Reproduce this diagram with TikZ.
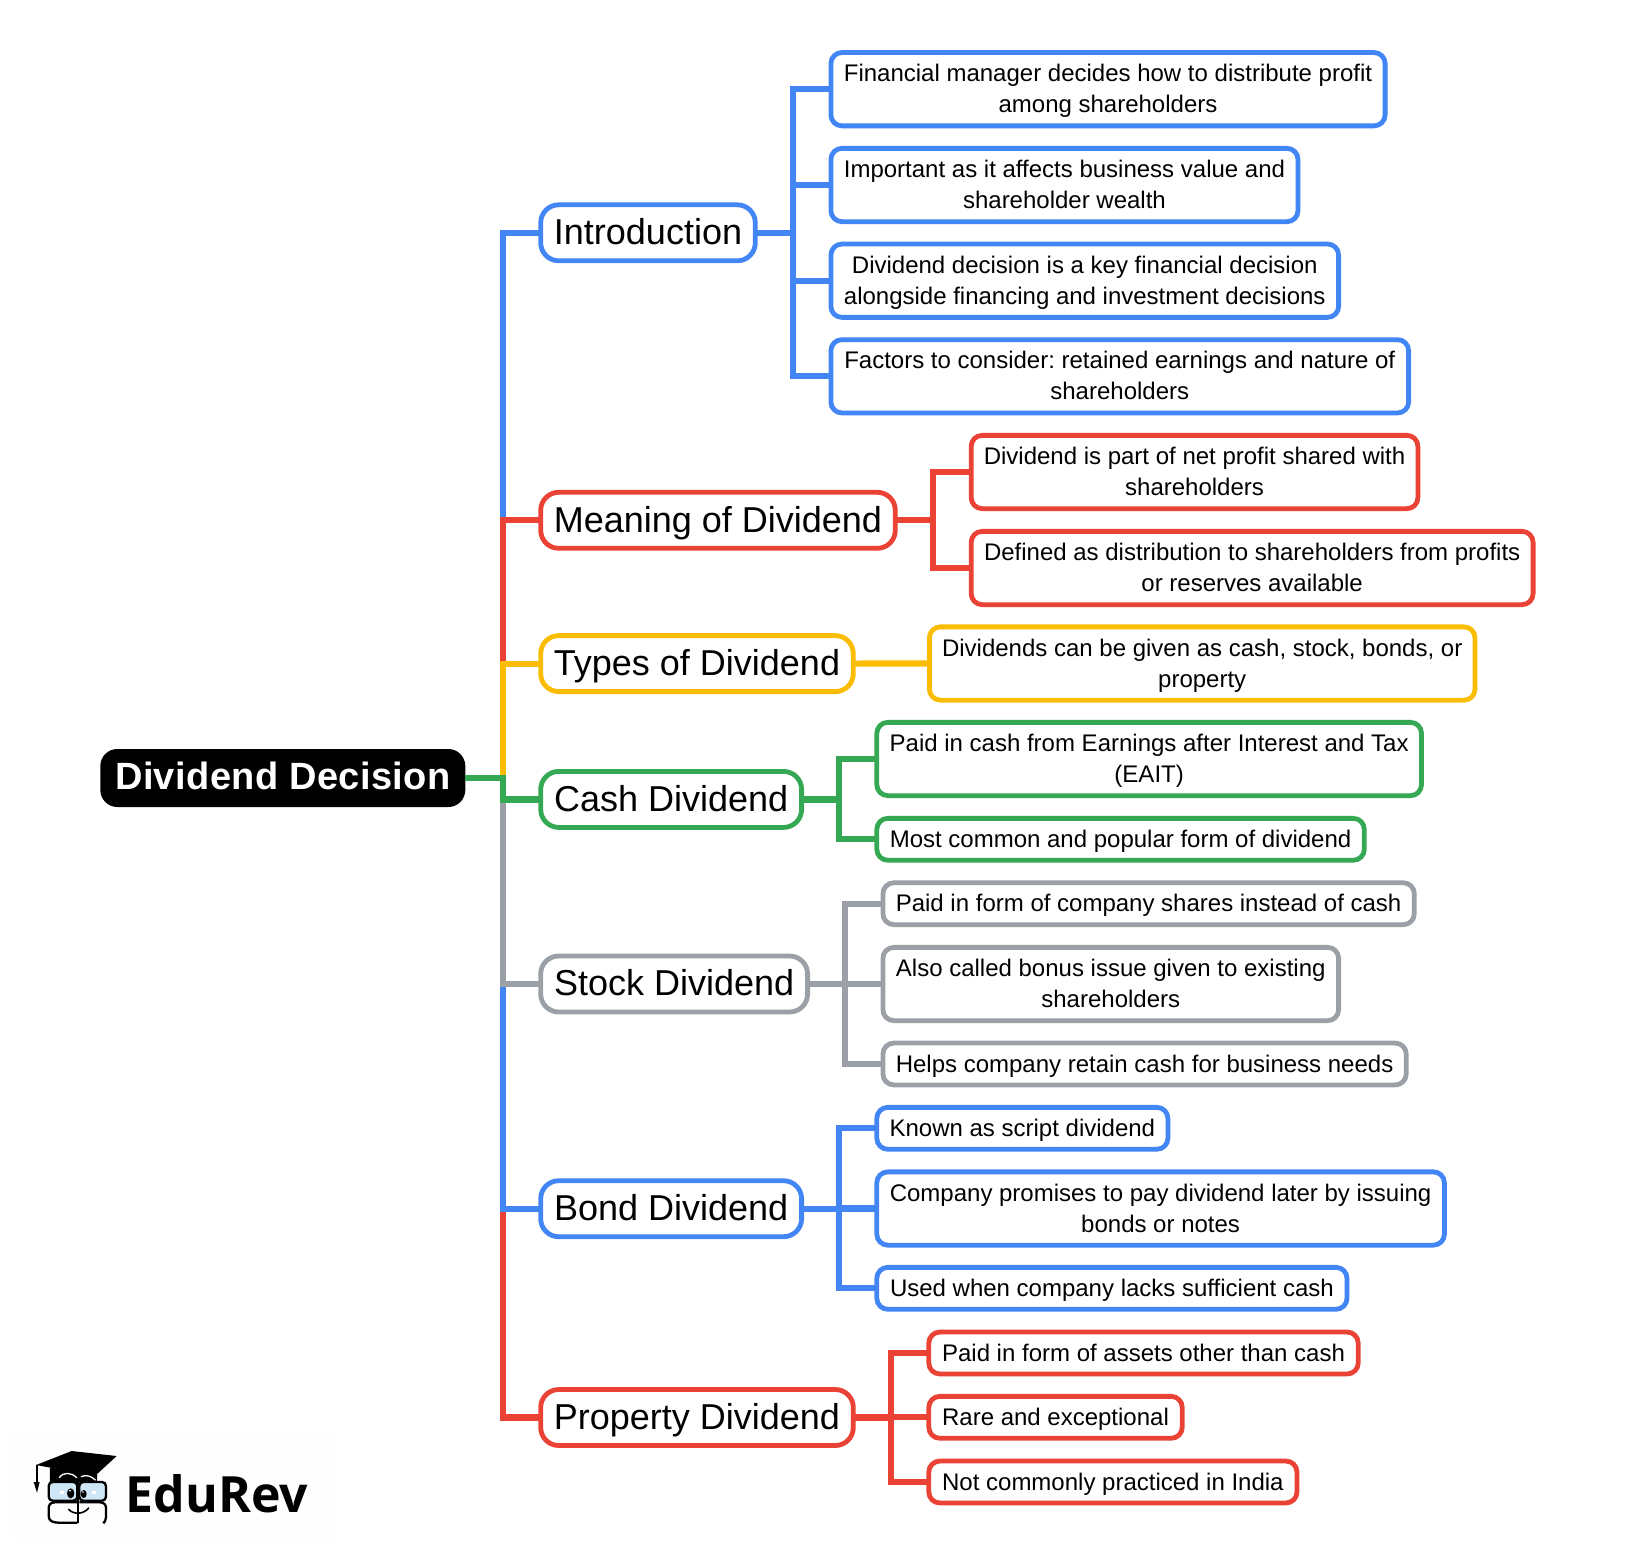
\documentclass[tikz,border=0pt]{standalone}
\usepackage{fontspec}
\setmainfont{Liberation Sans}
\newfontfamily\logofont{Open Sans}
\definecolor{gblue}{HTML}{4285F4}
\definecolor{gred}{HTML}{EA4335}
\definecolor{gyellow}{HTML}{FBBC04}
\definecolor{ggreen}{HTML}{34A853}
\definecolor{ggray}{HTML}{9AA0A6}
\definecolor{lens}{HTML}{CFE6F6}
\definecolor{logoback}{HTML}{FEFEFE}
\newcommand\leafstrut{\rule[-7.5pt]{0pt}{31pt}}
\newcommand\branchstrut{\rule[-9.7pt]{0pt}{43pt}}
\newcommand\leafnode[7]{\node[leafbox,#7,draw=#2,minimum width={#4-#3-4.8}] (#1) at ({(#3+#4)/2},#5) {\leafstrut #6\leafstrut};}
\newcommand\branchnode[6]{\node[branchbox,draw=#2,minimum width={#4-#3-4.8}] (#1) at ({(#3+#4)/2},#5) {\branchstrut #6};}
\tikzset{
  leafbox/.style={rectangle,rounded corners=11pt,line width=4.8pt,fill=white,inner sep=0pt,outer sep=0pt,align=center,text=black,font=\fontsize{24}{31}\selectfont\frenchspacing},
  leaftwo/.style={minimum height=73.3pt},
  leafone/.style={minimum height=41.9pt},
  branchbox/.style={rectangle,rounded corners=18pt,line width=4.8pt,fill=white,inner sep=0pt,outer sep=0pt,minimum height=56pt,text=black,font=\fontsize{36}{43}\selectfont},
  rootbox/.style={rectangle,rounded corners=17pt,fill=black,inner sep=0pt,outer sep=0pt,minimum width=365pt,minimum height=58pt,text=white,font=\fontsize{38}{43}\selectfont\bfseries\addfontfeature{LetterSpace=1}},
  conn/.style={line width=6.2pt,line join=miter},
  logoline/.style={draw=black,line width=2.3pt},
}
\begin{document}
\begin{tikzpicture}[x=1pt,y=-1pt]
\useasboundingbox (0,0) rectangle (1636,1556);
\fill[white] (0,0) rectangle (1636,1556);
\fill[logoback] (10,1430) rectangle (335,1540);

% root and branches
\node[rootbox] (root) at (282.8,778) {\branchstrut Dividend Decision};
\branchnode{intro}{gblue}{538.3}{757.7}{232.8}{Introduction}
\branchnode{meaning}{gred}{538.3}{897.7}{520.3}{Meaning of Dividend}
\branchnode{types}{gyellow}{538.3}{855.7}{663.6}{Types of Dividend}
\branchnode{cash}{ggreen}{538.3}{804}{799.4}{Cash Dividend}
\branchnode{stock}{ggray}{538.3}{810}{984}{Stock Dividend}
\branchnode{bond}{gblue}{538.3}{804}{1208.7}{Bond Dividend}
\branchnode{property}{gred}{538.3}{855.7}{1417.5}{Property Dividend}

% leaves
\leafnode{iA}{gblue}{828.5}{1387.5}{89.2}{Financial manager decides how to distribute profit\\among shareholders}{leaftwo}
\leafnode{iB}{gblue}{828.5}{1300.4}{185}{Important as it affects business value and\\shareholder wealth}{leaftwo}
\leafnode{iC}{gblue}{828.5}{1341}{280.7}{Dividend decision is a key financial decision\\alongside financing and investment decisions}{leaftwo}
\leafnode{iD}{gblue}{828.5}{1411}{376.3}{Factors to consider: retained earnings and nature of\\shareholders}{leaftwo}
\leafnode{mA}{gred}{968.8}{1420.3}{472}{Dividend is part of net profit shared with\\shareholders}{leaftwo}
\leafnode{mB}{gred}{968.8}{1535.5}{568}{Defined as distribution to shareholders from profits\\or reserves available}{leaftwo}
\leafnode{tA}{gyellow}{927}{1477.4}{663.5}{Dividends can be given as cash, stock, bonds, or\\property}{leaftwo}
\leafnode{cA}{ggreen}{874.4}{1423.9}{759}{Paid in cash from Earnings after Interest and Tax\\(EAIT)}{leaftwo}
\leafnode{cB}{ggreen}{874.4}{1366.7}{839.3}{Most common and popular form of dividend}{leafone}
\leafnode{sA}{ggray}{880.5}{1416.7}{903.7}{Paid in form of company shares instead of cash}{leafone}
\leafnode{sB}{ggray}{880.5}{1341}{984}{Also called bonus issue given to existing\\shareholders}{leaftwo}
\leafnode{sC}{ggray}{880.5}{1408.6}{1064}{Helps company retain cash for business needs}{leafone}
\leafnode{bA}{gblue}{874.4}{1170.3}{1128.3}{Known as script dividend}{leafone}
\leafnode{bB}{gblue}{874.4}{1446.8}{1208.5}{Company promises to pay dividend later by issuing\\bonds or notes}{leaftwo}
\leafnode{bC}{gblue}{874.4}{1349.4}{1288.3}{Used when company lacks sufficient cash}{leafone}
\leafnode{pA}{gred}{926.4}{1360.6}{1353}{Paid in form of assets other than cash}{leafone}
\leafnode{pB}{gred}{926.4}{1184.6}{1417.3}{Rare and exceptional}{leafone}
\leafnode{pC}{gred}{926.4}{1299.4}{1482}{Not commonly practiced in India}{leafone}

% trunks
\coordinate (rT) at (502.7,778);
\coordinate (iT) at (793,232.8);
\coordinate (mT) at (933.3,520.3);
\coordinate (cT) at (839.3,799.4);
\coordinate (sT) at (844.7,984);
\coordinate (bT) at (839.3,1208.7);
\coordinate (pT) at (891.3,1417.5);

% root connectors (later ones lie over earlier ones)
\draw[conn,gblue] (root.east) -- (rT) |- (intro.west);
\draw[conn,gred] (root.east) -- (rT) |- (meaning.west);
\draw[conn,gyellow] (root.east) -- (rT) |- (types.west);
\draw[conn,gred] (root.east) -- (rT) |- (property.west);
\draw[conn,gblue] (root.east) -- (rT) |- (bond.west);
\draw[conn,ggray] (root.east) -- (rT) |- (stock.west);
\draw[conn,ggreen] (root.east) -- (rT) |- (cash.west);

% branch connectors
\foreach \l in {iA,iB,iC,iD} \draw[conn,gblue] (intro.east) -- (iT) |- (\l.west);
\foreach \l in {mA,mB} \draw[conn,gred] (meaning.east) -- (mT) |- (\l.west);
\draw[conn,gyellow] (types.east) -- (tA.west);
\foreach \l in {cA,cB} \draw[conn,ggreen] (cash.east) -- (cT) |- (\l.west);
\foreach \l in {sA,sB,sC} \draw[conn,ggray] (stock.east) -- (sT) |- (\l.west);
\foreach \l in {bA,bB,bC} \draw[conn,gblue] (bond.east) -- (bT) |- (\l.west);
\foreach \l in {pA,pB,pC} \draw[conn,gred] (property.east) -- (pT) |- (\l.west);

% logo
\begin{scope}[shift={(20,1440)},x=0.3333pt,y=-0.3333pt]
  \fill[black] (90,84) -- (90,128) -- (230,128) -- (232,104) -- (170,88) -- cycle;
  \draw[white,line width=1.3pt,line cap=round] (118,113) .. controls (130,95) and (155,97) .. (170,113);
  \draw[white,line width=1.3pt,line cap=round] (184,110) .. controls (195,103) and (215,108) .. (226,120);
  \draw[logoline,rounded corners=4pt,fill=lens] (172,126) -- (86,126) -- (86,182) -- (172,182) -- cycle;
  \draw[logoline,rounded corners=4pt,fill=lens] (178,126) -- (258,126) -- (258,182) -- (178,182) -- cycle;
  \draw[logoline] (172,187) -- (104,187) .. controls (90,187) and (85,196) .. (86,210) -- (86,228) .. controls (87,242) and (96,248) .. (116,248) -- (172,248);
  \draw[logoline] (178,187) -- (240,187) .. controls (255,187) and (259,196) .. (258,210) -- (258,232) .. controls (257,242) and (254,246) .. (250,250);
  \draw[logoline] (175,122) -- (175,250);
  \fill[black] (152,160) ellipse [x radius=11,y radius=15];
  \fill[black] (191,162) ellipse [x radius=9,y radius=12];
  \fill[white] (150,152) circle [radius=3];
  \fill[white] (189,156) circle [radius=2.5];
  \fill[white] (121,152) rectangle (132,161);
  \fill[white] (216,152) rectangle (227,161);
  \draw[black,line width=1.6pt,line cap=round] (146,208) .. controls (160,224) and (190,224) .. (206,204);
  \fill[black] (48,75) -- (155,33) -- (290,48) -- (225,108) -- cycle;
  \draw[black,line width=1.8pt] (50,75) -- (50,128);
  \fill[black] (41,126) -- (59,126) -- (51,158) -- cycle;
\end{scope}
\node[anchor=base west,inner sep=0pt,font=\logofont\bfseries\fontsize{50}{60}\selectfont,text=black] (edurev) at (125.5,1512) {EduRev};
\end{tikzpicture}
\end{document}
